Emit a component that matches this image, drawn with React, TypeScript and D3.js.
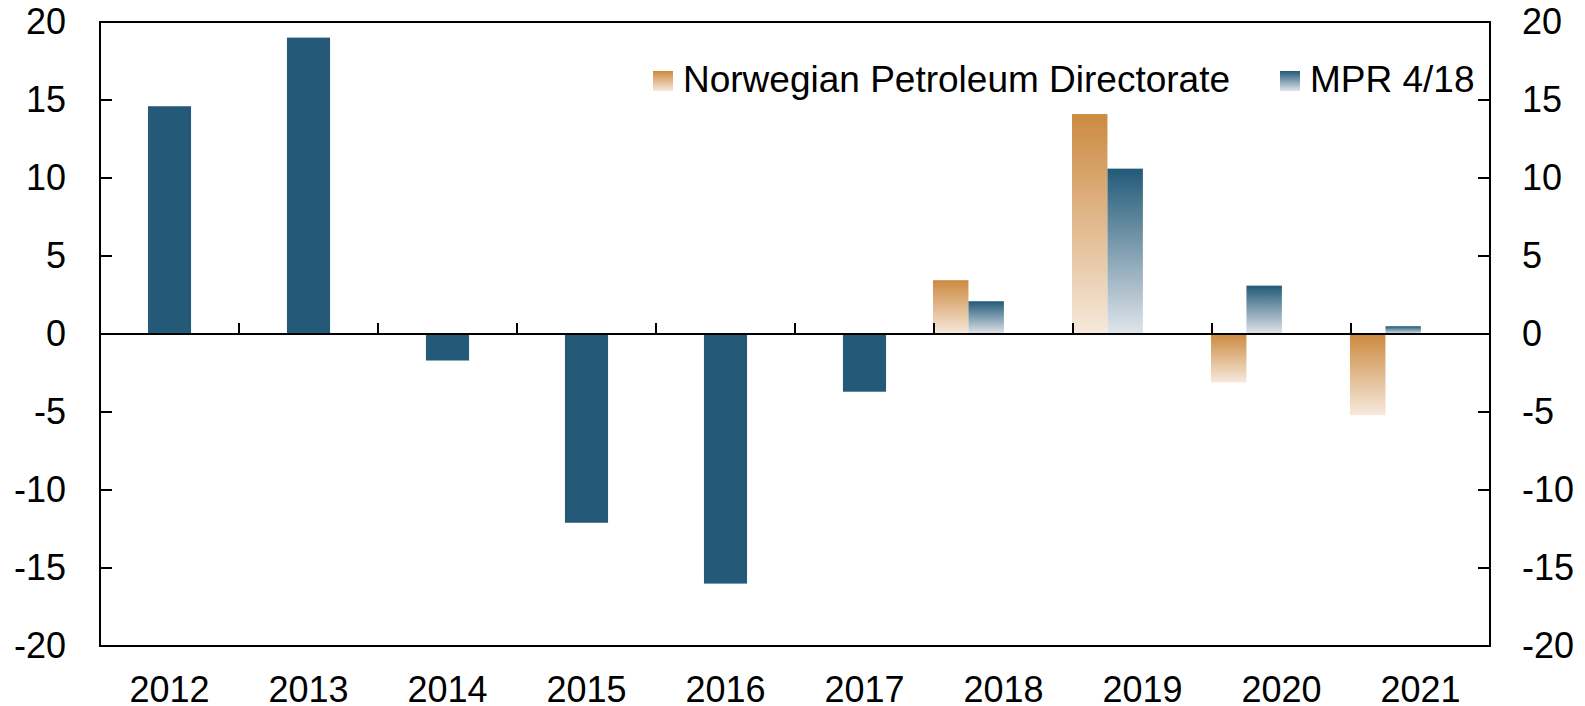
import { useEffect } from "react";
import * as d3 from "d3";

const years = ["2012", "2013", "2014", "2015", "2016", "2017", "2018", "2019", "2020", "2021"];
const historyYears = ["2012", "2013", "2014", "2015", "2016", "2017"];
const mprHistory = [14.6, 19.0, -1.7, -12.1, -16.0, -3.7];
const projectionYears = ["2018", "2019", "2020", "2021"];
const npdProjection = [3.45, 14.1, -3.1, -5.2];
const mprProjection = [2.1, 10.6, 3.1, 0.5];
const seriesNames = ["Norwegian Petroleum Directorate", "MPR 4/18"];
const yTicks = [-20, -15, -10, -5, 0, 5, 10, 15, 20];

const W = 1585;
const H = 706;
const M = { left: 100, right: 95, top: 22, bottom: 60 };
const FONT = "Arial, 'Liberation Sans', sans-serif";

const App = () => {
  useEffect(() => {
    document.body.style.margin = "0";
  }, []);

  const x = d3
    .scaleBand<string>()
    .domain(years)
    .range([M.left, W - M.right])
    .padding(0);
  const y = d3
    .scaleLinear()
    .domain([-20, 20])
    .range([H - M.bottom, M.top]);
  const bw = x.bandwidth();
  // historical bars sit centred in the year, projections start at its left edge
  const histW = bw * 0.31;
  const inner = d3
    .scaleBand<string>()
    .domain(seriesNames)
    .range([-1, bw * 0.51 - 1]);

  const bar = (v: number) => ({ y: y(Math.max(0, v)), h: Math.abs(y(v) - y(0)) });

  const npd = projectionYears.map((yr, i) => ({ yr, v: npdProjection[i] }));
  const mprP = projectionYears.map((yr, i) => ({ yr, v: mprProjection[i] }));
  const hist = historyYears.map((yr, i) => ({ yr, v: mprHistory[i] }));

  const x0 = M.left;
  const x1 = W - M.right;

  return (
    <svg width={W} height={H} style={{ display: "block", background: "#fff" }} fontFamily={FONT}>
      <defs>
        <linearGradient id="gOrange" x1="0" y1="0" x2="0" y2="1">
          <stop offset="0" stopColor="#cc8a40" />
          <stop offset="1" stopColor="#f6e9dc" />
        </linearGradient>
        <linearGradient id="gBlue" x1="0" y1="0" x2="0" y2="1">
          <stop offset="0" stopColor="#225a78" />
          <stop offset="1" stopColor="#e1e5eb" />
        </linearGradient>
      </defs>

      {hist.map((d) => {
        const b = bar(d.v);
        return (
          <rect
            key={"h" + d.yr}
            x={(x(d.yr) as number) + (bw - histW) / 2}
            y={b.y}
            width={histW}
            height={b.h}
            fill="#245a78"
          />
        );
      })}
      {npd.map((d) => {
        const b = bar(d.v);
        return (
          <rect
            key={"n" + d.yr}
            x={(x(d.yr) as number) + (inner(seriesNames[0]) as number)}
            y={b.y}
            width={inner.bandwidth()}
            height={b.h}
            fill="url(#gOrange)"
          />
        );
      })}
      {mprP.map((d) => {
        const b = bar(d.v);
        return (
          <rect
            key={"m" + d.yr}
            x={(x(d.yr) as number) + (inner(seriesNames[1]) as number)}
            y={b.y}
            width={inner.bandwidth()}
            height={b.h}
            fill="url(#gBlue)"
          />
        );
      })}

      {/* zero line and category ticks */}
      <line x1={x0} x2={x1} y1={y(0)} y2={y(0)} stroke="#000" strokeWidth={2} />
      {years.slice(1).map((yr) => (
        <line
          key={"ct" + yr}
          x1={x(yr) as number}
          x2={x(yr) as number}
          y1={y(0)}
          y2={y(0) - 11}
          stroke="#000"
          strokeWidth={2}
        />
      ))}

      {/* frame */}
      <rect
        x={x0}
        y={M.top}
        width={x1 - x0}
        height={H - M.bottom - M.top}
        fill="none"
        stroke="#000"
        strokeWidth={2}
      />

      {yTicks.map((t) => (
        <g key={"yt" + t}>
          <line x1={x0} x2={x0 + 12} y1={y(t)} y2={y(t)} stroke="#000" strokeWidth={2} />
          <line x1={x1} x2={x1 - 12} y1={y(t)} y2={y(t)} stroke="#000" strokeWidth={2} />
          <text x={66} y={y(t) + 12} textAnchor="end" fontSize={36} fill="#000">
            {t}
          </text>
          <text x={1522} y={y(t) + 12} textAnchor="start" fontSize={36} fill="#000">
            {t}
          </text>
        </g>
      ))}

      {years.map((yr) => (
        <text
          key={"xl" + yr}
          x={(x(yr) as number) + bw / 2}
          y={702}
          textAnchor="middle"
          fontSize={36}
          fill="#000"
        >
          {yr}
        </text>
      ))}

      {/* legend */}
      <rect x={653} y={71} width={20} height={20} fill="url(#gOrange)" />
      <text x={683} y={92} fontSize={37} fill="#000">
        {seriesNames[0]}
      </text>
      <rect x={1280} y={71} width={20} height={20} fill="url(#gBlue)" />
      <text x={1310} y={92} fontSize={37} fill="#000">
        {seriesNames[1]}
      </text>
    </svg>
  );
};

export default App;
